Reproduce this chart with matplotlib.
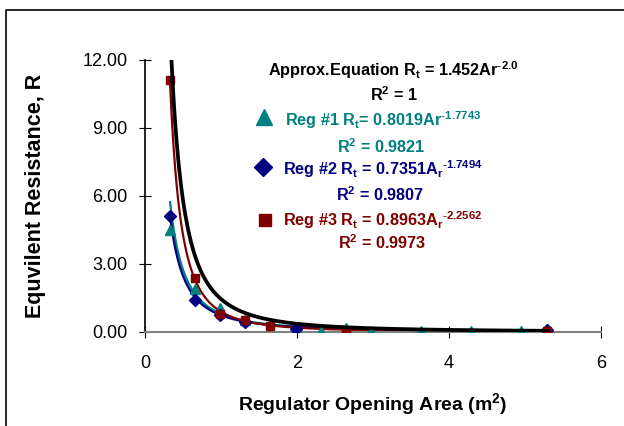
import numpy as np
import matplotlib.pyplot as plt
from matplotlib.lines import Line2D

plt.rcParams['font.family'] = ['Liberation Sans', 'DejaVu Sans']

reg1_x = [0.33, 0.66, 0.99, 1.32, 1.98, 2.31, 2.64, 2.97, 3.63, 4.29, 4.95]
reg1_y = [4.5, 1.9, 1.05, 0.55, 0.12, 0.06, 0.18, 0.05, 0.04, 0.04, 0.04]
reg2_x = [0.33, 0.66, 0.99, 1.32, 1.98, 5.29]
reg2_y = [5.1, 1.4, 0.75, 0.45, 0.12, 0.08]
reg3_x = [0.33, 0.66, 0.99, 1.32, 1.65, 2.64, 5.29]
reg3_y = [11.1, 2.4, 0.8, 0.55, 0.27, 0.05, 0.03]

# trendline coefficients shown on the chart: R = a * A^b
fit_a = [1.452, 0.8019, 0.7351, 0.8963]
fit_b = [-2.0, -1.7743, -1.7494, -2.2562]
fit_end = [5.3, 5.0, 5.3, 5.3]
fit_col = ['black', '#008080', '#000080', '#800000']
fit_lw = [2.7, 1.6, 1.6, 1.6]

fig = plt.figure(figsize=(6.24, 4.26), dpi=100)
ax = fig.add_axes([0.2324, 0.2207, 0.7308, 0.6385])

ax.plot(reg1_x, reg1_y, '^', color='#008080', ms=7, zorder=3)
ax.plot(reg2_x, reg2_y, 'D', color='#000080', ms=6, zorder=3)
ax.plot(reg3_x, reg3_y, 's', color='#800000', ms=6, zorder=3)

for a, b, e, c, lw in zip(fit_a, fit_b, fit_end, fit_col, fit_lw):
    xs = np.linspace(0.33, e, 300)
    ax.plot(xs, a * xs ** b, color=c, lw=lw, zorder=2 if c != 'black' else 4)

ax.set_xlim(0, 6)
ax.set_ylim(0, 12)
ax.set_xticks([0, 2, 4, 6])
ax.set_yticks([0, 3, 6, 9, 12])
ax.set_yticklabels(['%.2f' % v for v in [0, 3, 6, 9, 12]])
ax.tick_params(direction='inout', length=9, labelsize=13, color='black')
ax.tick_params(axis='y', pad=8)
ax.tick_params(axis='x', pad=12)
for s in ['top', 'right']:
    ax.spines[s].set_visible(False)
ax.spines['bottom'].set_color('#808080')
ax.spines['bottom'].set_linewidth(1.5)
ax.spines['left'].set_linewidth(1.2)

ax.set_xlabel('Regulator Opening Area (m$^\\mathregular{2}$)', fontsize=14, fontweight='bold', labelpad=14)
ax.set_ylabel('Equvilent Resistance, R', fontsize=15.5, fontweight='bold', labelpad=26)

kw = dict(transform=fig.transFigure, fontweight='bold', fontsize=11.7, va='center')
fig.text(393/624, 1-70/426, 'Approx.Equation R$_\\mathregular{t}$ = 1.452Ar$^\\mathregular{\\text{-}2.0}$', ha='center', color='black', **kw)
fig.text(394/624, 1-95/426, 'R$^\\mathregular{2}$ = 1', ha='center', color='black', **kw)
fig.text(285/624, 1-120/426, 'Reg #1 R$_\\mathregular{t}$= 0.8019Ar$^\\mathregular{\\text{-}1.7743}$', ha='left', color='#008080', **kw)
fig.text(381/624, 1-147/426, 'R$^\\mathregular{2}$ = 0.9821', ha='center', color='#008080', **kw)
fig.text(283/624, 1-169/426, 'Reg #2 R$_\\mathregular{t}$ = 0.7351A$_\\mathregular{r}$$^\\mathregular{\\text{-}1.7494}$', ha='left', color='#000080', **kw)
fig.text(380/624, 1-195/426, 'R$^\\mathregular{2}$ = 0.9807', ha='center', color='#000080', **kw)
fig.text(283/624, 1-220/426, 'Reg #3 R$_\\mathregular{t}$ = 0.8963A$_\\mathregular{r}$$^\\mathregular{\\text{-}2.2562}$', ha='left', color='#800000', **kw)
fig.text(382/624, 1-243/426, 'R$^\\mathregular{2}$ = 0.9973', ha='center', color='#800000', **kw)

fig.add_artist(Line2D([264/624], [1-117/426], marker='^', color='#008080', ms=11, transform=fig.transFigure))
fig.add_artist(Line2D([263/624], [1-167/426], marker='D', color='#000080', ms=9, transform=fig.transFigure))
fig.add_artist(Line2D([265/624], [1-220/426], marker='s', color='#800000', ms=8, transform=fig.transFigure))

# chart frame (top and left edges visible)
fig.add_artist(Line2D([6/624, 6/624, 1], [0, 1-10/426, 1-10/426], color='black', lw=1.2, transform=fig.transFigure))

fig.savefig('out.png', dpi=100)
